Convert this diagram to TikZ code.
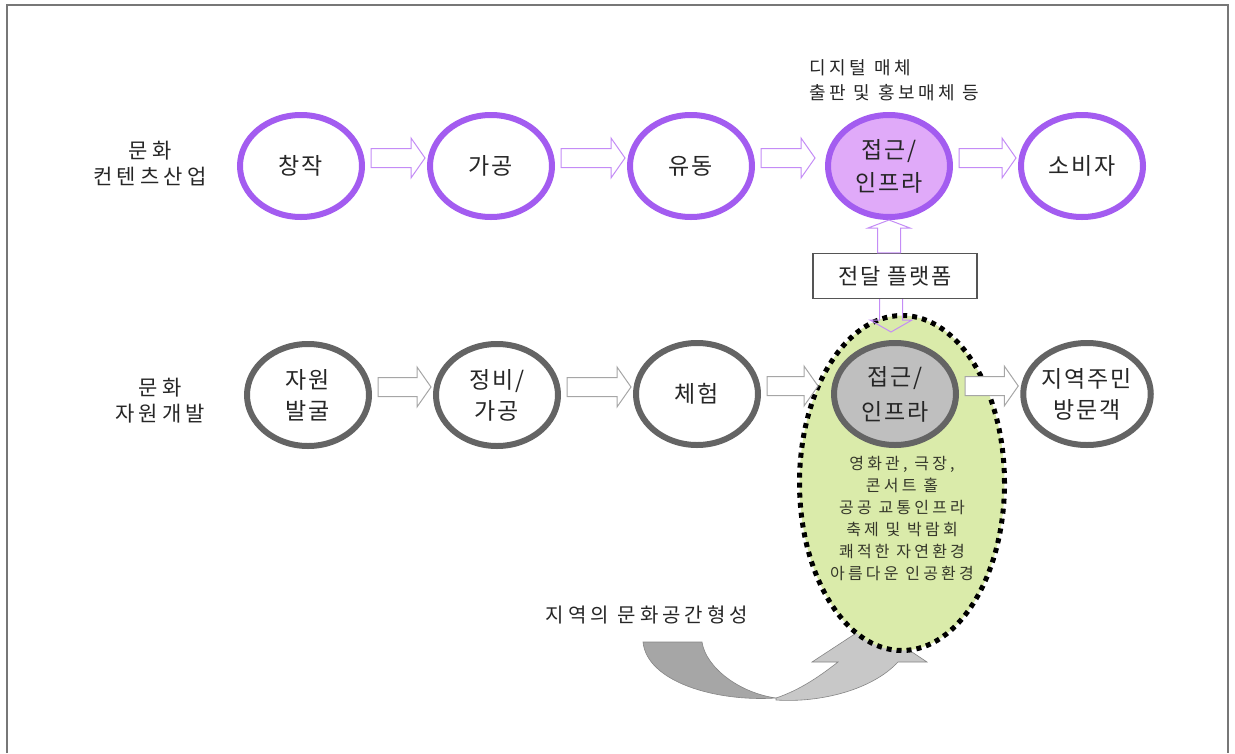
\documentclass[tikz,border=0pt]{standalone}
\usepackage{fontspec}
\usepackage{xcolor}
\usepackage{tikz}
\usetikzlibrary{shapes.geometric,calc}

\newfontfamily\krfont[LetterSpace=8]{Noto Sans CJK KR}
\newfontfamily\krwide[LetterSpace=20]{Noto Sans CJK KR}

\definecolor{violetline}{HTML}{A35CF0}
\definecolor{arrowviolet}{HTML}{C48CF6}
\definecolor{lilac}{HTML}{E0AAF9}
\definecolor{ringgray}{HTML}{646464}
\definecolor{arrowgray}{HTML}{A6A6A6}
\definecolor{accessgray}{HTML}{BFBFBF}
\definecolor{zonegreen}{HTML}{DAEBAA}
\definecolor{zoneink}{HTML}{35372A}
\definecolor{ink}{HTML}{262626}
\definecolor{framegray}{HTML}{777777}
\definecolor{boxgray}{HTML}{555555}
\definecolor{swirldark}{HTML}{A6A6A6}
\definecolor{swirllight}{HTML}{C8C8C8}
\definecolor{swirledge}{HTML}{858585}

% hollow block arrow: style, from node, to node, gap before the target
\newcommand\blockarrow[4]{%
  \draw[#1] let \p1=($(#2.east)+(6pt,8pt)$), \p2=($(#3.west)+(-#4,8pt)$) in
    (\x1,\y1+9.5pt) -- (\x2-14pt,\y1+9.5pt) -- (\x2-14pt,\y1+20pt) -- (\x2,\y1)
    -- (\x2-14pt,\y1-20pt) -- (\x2-14pt,\y1-9.5pt) -- (\x1,\y1-9.5pt) -- cycle;}

\begin{document}
\begin{tikzpicture}[x=1pt,y=-1pt,
  ring/.style={ellipse,minimum width=122pt,minimum height=102pt,inner sep=0pt,
    line width=6pt,text=ink,align=center,font=\krfont\fontsize{23pt}{31pt}\selectfont},
  contentring/.style={ring,draw=violetline,fill=white},
  resourcering/.style={ring,draw=ringgray,fill=white},
  contentarrow/.style={draw=arrowviolet,fill=white,line width=1pt},
  resourcearrow/.style={draw=arrowgray,fill=white,line width=1pt},
  rowlabel/.style={align=center,text=ink,font=\krwide\fontsize{21pt}{26pt}\selectfont}]

\useasboundingbox (0,0) rectangle (1235,753);
\draw[framegray,line width=1.5pt] (7,753) -- (7,5) -- (1228,5) -- (1228,753);

% content industry row
\node (L1)[rowlabel] at (150,164) {문화\\컨텐츠산업};
\node (C1)[contentring] at (301,166) {창작};
\node (C2)[contentring] at (491,166) {가공};
\node (C3)[contentring] at (691,166) {유동};
\node (C4)[contentring,fill=lilac,font=\krfont\fontsize{23pt}{33pt}\selectfont] at (889,166) {접근/\\인프라};
\node (C5)[contentring] at (1082,166) {소비자};
\node (M)[anchor=west,align=left,text=ink,font=\krwide\fontsize{18pt}{25pt}\selectfont] at (806,80) {디지털 매체\\출판 및 홍보매체 등};

\blockarrow{contentarrow}{C1}{C2}{2pt}
\blockarrow{contentarrow}{C2}{C3}{2pt}
\blockarrow{contentarrow}{C3}{C4}{10pt}
\blockarrow{contentarrow}{C4}{C5}{2pt}

% forming the cultural space
\filldraw[fill=swirldark,draw=swirledge,line width=0.6pt] (643,642) -- (702,642)
  .. controls (706,668) and (740,693) .. (776,698)
  .. controls (716,702) and (647,682) .. (643,642) -- cycle;
\filldraw[fill=swirllight,draw=swirledge,line width=0.6pt] (776,698)
  .. controls (800,690) and (820,676) .. (838,662) -- (812,662) -- (870,624)
  -- (927,662) -- (898,662) .. controls (872,690) and (820,703) .. (776,700) -- cycle;
\node (S)[text=ink,font=\krwide\fontsize{20pt}{24pt}\selectfont] at (647,615) {지역의 문화공간형성};

\node (Z)[ellipse,minimum width=205pt,minimum height=335pt,fill=zonegreen,draw=black,
  line width=5pt,dash pattern=on 5pt off 5pt] at (902,483) {};
\node (Zt)[align=center,text=zoneink,font=\krwide\fontsize{16pt}{22pt}\selectfont] at (902,519)
  {영화관, 극장,\\콘서트 홀\\공공 교통인프라\\축제 및 박람회\\쾌적한 자연환경\\아름다운 인공환경};

% cultural resource row
\node (L2)[rowlabel] at (160,401) {문화\\자원개발};
\node (R1)[resourcering] at (308,395) {자원\\발굴};
\node (R2)[resourcering] at (497,395) {정비/\\가공};
\node (R3)[resourcering] at (697,394) {체험};
\node (R4)[resourcering,fill=accessgray,font=\krfont\fontsize{23pt}{35pt}\selectfont] at (895,394) {접근/\\인프라};
\node (R5)[resourcering] at (1087,394) {지역주민\\방문객};

\blockarrow{resourcearrow}{R1}{R2}{2pt}
\blockarrow{resourcearrow}{R2}{R3}{2pt}
\blockarrow{resourcearrow}{R3}{R4}{13pt}
\blockarrow{resourcearrow}{R4}{R5}{2pt}

% delivery platform
\node (P)[draw=boxgray,line width=1.2pt,fill=white,minimum width=164pt,minimum height=45pt,
  text=ink,font=\krfont\fontsize{22pt}{26pt}\selectfont] at (895,276) {전달 플랫폼};
\coordinate (Zin) at (891,332);
\draw[contentarrow] let \p1=(P.north), \p2=(C4.south) in
  (\x2-11.5pt,\y1) -- (\x2-11.5pt,\y2-8pt) -- (\x2-21pt,\y2-8pt) -- (\x2,\y2)
  -- (\x2+21pt,\y2-8pt) -- (\x2+11.5pt,\y2-8pt) -- (\x2+11.5pt,\y1) -- cycle;
\draw[draw=arrowviolet,line width=1pt] let \p1=(P.south), \p2=(Zin) in
  (\x2-11.5pt,\y1) -- (\x2-11.5pt,\y2+12pt) -- (\x2-21pt,\y2+12pt) -- (\x2,\y2)
  -- (\x2+21pt,\y2+12pt) -- (\x2+11.5pt,\y2+12pt) -- (\x2+11.5pt,\y1);
\end{tikzpicture}
\end{document}
